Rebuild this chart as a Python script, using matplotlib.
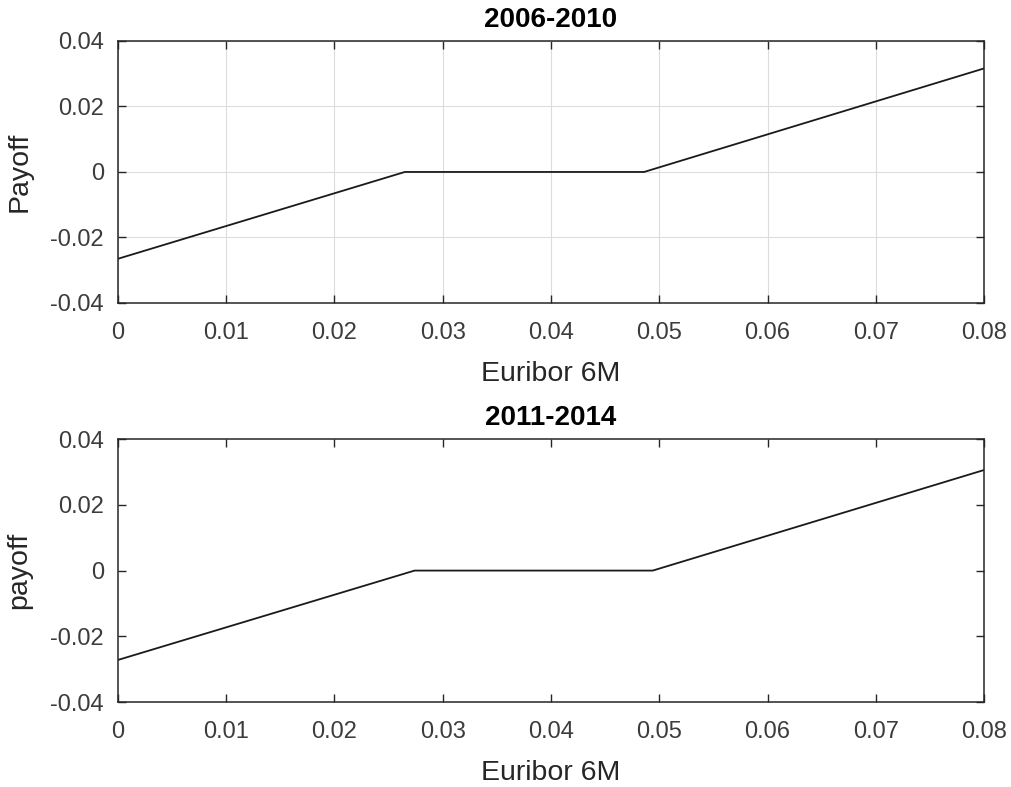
import numpy as np
import matplotlib
matplotlib.use("Agg")
import matplotlib.pyplot as plt

# payoff profile (kink points)
x_0610 = [0.0, 0.0265, 0.0486, 0.08]
y_0610 = [-0.0265, 0.0, 0.0, 0.0316]

x_1114 = [0.0, 0.0274, 0.0494, 0.08]
y_1114 = [-0.0272, 0.0, 0.0, 0.0306]

xticks = [0, 0.01, 0.02, 0.03, 0.04, 0.05, 0.06, 0.07, 0.08]
xticklabels = ["0", "0.01", "0.02", "0.03", "0.04", "0.05", "0.06", "0.07", "0.08"]
yticks = [-0.04, -0.02, 0, 0.02, 0.04]
yticklabels = ["-0.04", "-0.02", "0", "0.02", "0.04"]

plt.rcParams['font.family'] = ['Liberation Sans', 'DejaVu Sans']

fig = plt.figure(figsize=(10.11, 7.87), dpi=100)
ax1 = fig.add_axes([0.1167, 0.615, 0.8566, 0.333])
ax2 = fig.add_axes([0.1167, 0.108, 0.8566, 0.334])

def style_axes(ax, title, ylabel, grid):
    ax.set_xlim(0, 0.08)
    ax.set_ylim(-0.04, 0.04)
    ax.set_xticks(xticks)
    ax.set_xticklabels(xticklabels)
    ax.set_yticks(yticks)
    ax.set_yticklabels(yticklabels)
    ax.tick_params(direction='in', length=6, width=1.0, top=True, right=True,
                   labelsize=17, labelcolor='#3c3c3c', color='#262626')
    ax.tick_params(axis='x', pad=14)
    ax.tick_params(axis='y', pad=10)
    for s in ax.spines.values():
        s.set_linewidth(1.1)
        s.set_color('#262626')
    ax.set_title(title, fontsize=20, fontweight='bold', pad=10)
    ax.set_xlabel("Euribor 6M", fontsize=20.5, color='#262626', labelpad=12)
    ax.set_ylabel(ylabel, fontsize=20.5, color='#262626', labelpad=13)
    if grid:
        ax.grid(True, color='#dcdcdc', linewidth=0.8)
        ax.set_axisbelow(True)

ax1.plot(x_0610, y_0610, color='#1a1a1a', linewidth=1.3)
style_axes(ax1, "2006-2010", "Payoff", True)

ax2.plot(x_1114, y_1114, color='#1a1a1a', linewidth=1.3)
style_axes(ax2, "2011-2014", "payoff", False)

fig.savefig("out.png", dpi=100)
